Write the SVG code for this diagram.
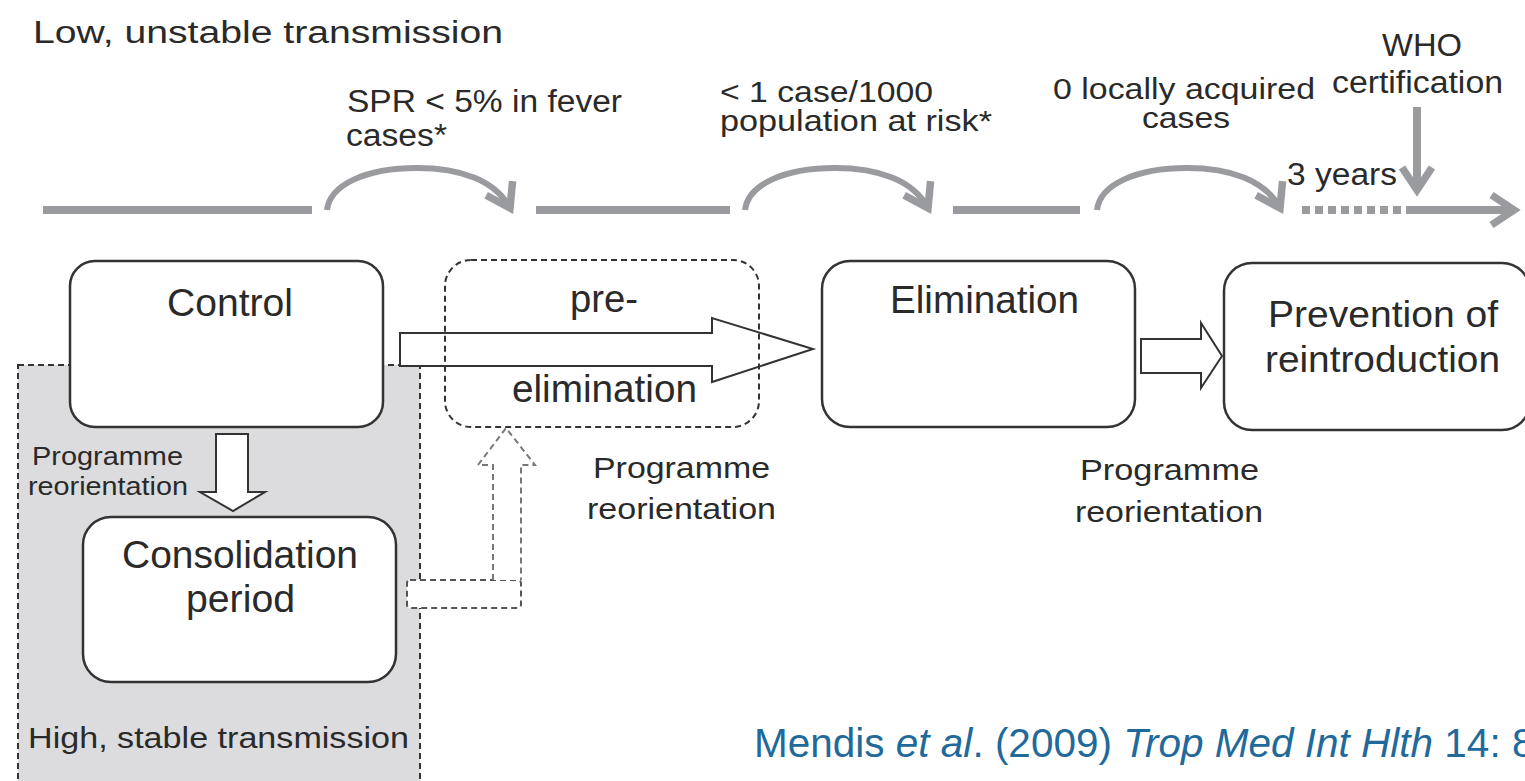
<svg xmlns="http://www.w3.org/2000/svg" width="1525" height="781" viewBox="0 0 1525 781">
<style>
  text { font-family: "Liberation Sans", Arial, sans-serif; fill: #2a2a2a; }
  .t31 { font-size: 31px; }
  .t29 { font-size: 29px; }
  .t26 { font-size: 25px; }
  .t30 { font-size: 30px; }
  .t38 { font-size: 38px; }
  .t36 { font-size: 36px; }
  .box { fill: #fff; stroke: #333; stroke-width: 2.5; }
  .dbox { fill: none; stroke: #333; stroke-width: 2; stroke-dasharray: 6 4; }
  .track { fill: none; stroke: #9a9b9f; stroke-width: 8; }
  .hop { fill: none; stroke: #9a9b9f; stroke-width: 6; }
  .block { fill: #fff; stroke: #333; stroke-width: 2; stroke-linejoin: miter; }
  .cite { font-size: 40.5px; fill: #1f6a9b; }
</style>
<defs>
  <marker id="chev" markerUnits="userSpaceOnUse" markerWidth="40" markerHeight="40" viewBox="-24 -16 28 32" refX="0" refY="0" orient="auto">
    <path d="M-18,-12 L0,0 L-18,12" fill="none" stroke="#9a9b9f" stroke-width="6" stroke-linejoin="miter"/>
  </marker>
</defs>

<!-- background region: high, stable transmission -->
<g id="high-stable-region">
  <rect x="18" y="365" width="402" height="440" fill="#dcdcde" stroke="#333" stroke-width="2" stroke-dasharray="6 4"/>
  <text class="t30" x="28" y="748" textLength="381" lengthAdjust="spacingAndGlyphs">High, stable transmission</text>
</g>

<g id="top-labels">
  <text class="t31" x="33" y="43" textLength="470" lengthAdjust="spacingAndGlyphs">Low, unstable transmission</text>
  <text class="t31" x="347" y="112" textLength="275" lengthAdjust="spacingAndGlyphs">SPR &lt; 5% in fever</text>
  <text class="t31" x="346" y="146" textLength="101" lengthAdjust="spacingAndGlyphs">cases*</text>
  <text class="t29" x="720" y="102" textLength="213" lengthAdjust="spacingAndGlyphs">&lt; 1 case/1000</text>
  <text class="t29" x="720" y="131" textLength="272" lengthAdjust="spacingAndGlyphs">population at risk*</text>
  <text class="t29" x="1053" y="99" textLength="262" lengthAdjust="spacingAndGlyphs">0 locally acquired</text>
  <text class="t29" x="1142" y="128" textLength="88" lengthAdjust="spacingAndGlyphs">cases</text>
  <text class="t31" x="1382" y="56" textLength="80" lengthAdjust="spacingAndGlyphs">WHO</text>
  <text class="t31" x="1332" y="93" textLength="171" lengthAdjust="spacingAndGlyphs">certification</text>
  <text class="t31" x="1287" y="185" textLength="110" lengthAdjust="spacingAndGlyphs">3 years</text>
</g>

<g id="connectors">
  <!-- timeline -->
  <line class="track" x1="43" y1="210" x2="312" y2="210"/>
  <path class="hop" d="M327,210 C330,185 365,168 417,168 C460,168 495,180 510,208" marker-end="url(#chev)"/>
  <line class="track" x1="536" y1="210" x2="730" y2="210"/>
  <path class="hop" d="M745,210 C748,185 783,168 835,168 C878,168 913,180 928,208" marker-end="url(#chev)"/>
  <line class="track" x1="953" y1="210" x2="1080" y2="210"/>
  <path class="hop" d="M1097,210 C1100,185 1135,168 1187,168 C1230,168 1265,180 1280,208" marker-end="url(#chev)"/>
  <line x1="1302" y1="210" x2="1407" y2="210" stroke="#9a9b9f" stroke-width="8" stroke-dasharray="8 5"/>
  <line class="track" x1="1407" y1="210" x2="1514" y2="210" marker-end="url(#chev)"/>
  <line class="track" x1="1417" y1="107" x2="1417" y2="190" marker-end="url(#chev)"/>

  <!-- Control -> Consolidation block arrow -->
  <path class="block" d="M216,434 H248 V492 H265 L233,511 L200,492 H216 Z"/>
  <!-- Control -> Elimination block arrow -->
  <path class="block" d="M400,333 H712 V318 L813,349 L712,382 V366 H400 Z"/>
  <!-- Elimination -> Prevention block arrow -->
  <path class="block" d="M1141,339 H1201 V323 L1222,356 L1201,388 V373 H1141 Z"/>
  <!-- dashed reorientation arrow from consolidation to pre-elimination -->
  <rect x="407" y="580" width="114" height="28" rx="3" fill="#fff" stroke="#555" stroke-width="2" stroke-dasharray="6 4"/>
  <path d="M493,580 V465 H478 L506,428 L535,465 H521 V580" fill="#fff" stroke="#777" stroke-width="2" stroke-dasharray="6 4"/>
</g>

<g id="control">
  <rect class="box" x="70" y="261" width="313" height="166" rx="25"/>
  <text class="t38" x="167" y="316" textLength="126" lengthAdjust="spacingAndGlyphs">Control</text>
</g>

<g id="consolidation">
  <rect class="box" x="83" y="517" width="313" height="165" rx="28"/>
  <text class="t38" x="122" y="568" textLength="236" lengthAdjust="spacingAndGlyphs">Consolidation</text>
  <text class="t38" x="186" y="612" textLength="109" lengthAdjust="spacingAndGlyphs">period</text>
</g>

<g id="pre-elimination">
  <rect class="dbox" x="445" y="260" width="314" height="167" rx="26"/>
  <text class="t38" x="570" y="312" textLength="68" lengthAdjust="spacingAndGlyphs">pre-</text>
  <text class="t38" x="512" y="402" textLength="185" lengthAdjust="spacingAndGlyphs">elimination</text>
</g>

<g id="elimination">
  <rect class="box" x="822" y="261" width="313" height="166" rx="28"/>
  <text class="t38" x="890" y="313" textLength="189" lengthAdjust="spacingAndGlyphs">Elimination</text>
</g>

<g id="prevention">
  <rect class="box" x="1224" y="263" width="306" height="167" rx="28"/>
  <text class="t36" x="1268" y="327" textLength="230" lengthAdjust="spacingAndGlyphs">Prevention of</text>
  <text class="t36" x="1265" y="372" textLength="235" lengthAdjust="spacingAndGlyphs">reintroduction</text>
</g>

<g id="reorientation-labels">
  <text class="t26" x="32" y="465" textLength="151" lengthAdjust="spacingAndGlyphs">Programme</text>
  <text class="t26" x="28" y="495" textLength="160" lengthAdjust="spacingAndGlyphs">reorientation</text>
  <text class="t30" x="593" y="478" textLength="177" lengthAdjust="spacingAndGlyphs">Programme</text>
  <text class="t30" x="587" y="519" textLength="189" lengthAdjust="spacingAndGlyphs">reorientation</text>
  <text class="t30" x="1080" y="480" textLength="179" lengthAdjust="spacingAndGlyphs">Programme</text>
  <text class="t30" x="1075" y="522" textLength="188" lengthAdjust="spacingAndGlyphs">reorientation</text>
</g>

<g id="citation">
  <text class="cite" x="754" y="757">Mendis <tspan font-style="italic">et al</tspan>. (2009) <tspan font-style="italic">Trop Med Int Hlth</tspan> 14: 8</text>
</g>
</svg>
